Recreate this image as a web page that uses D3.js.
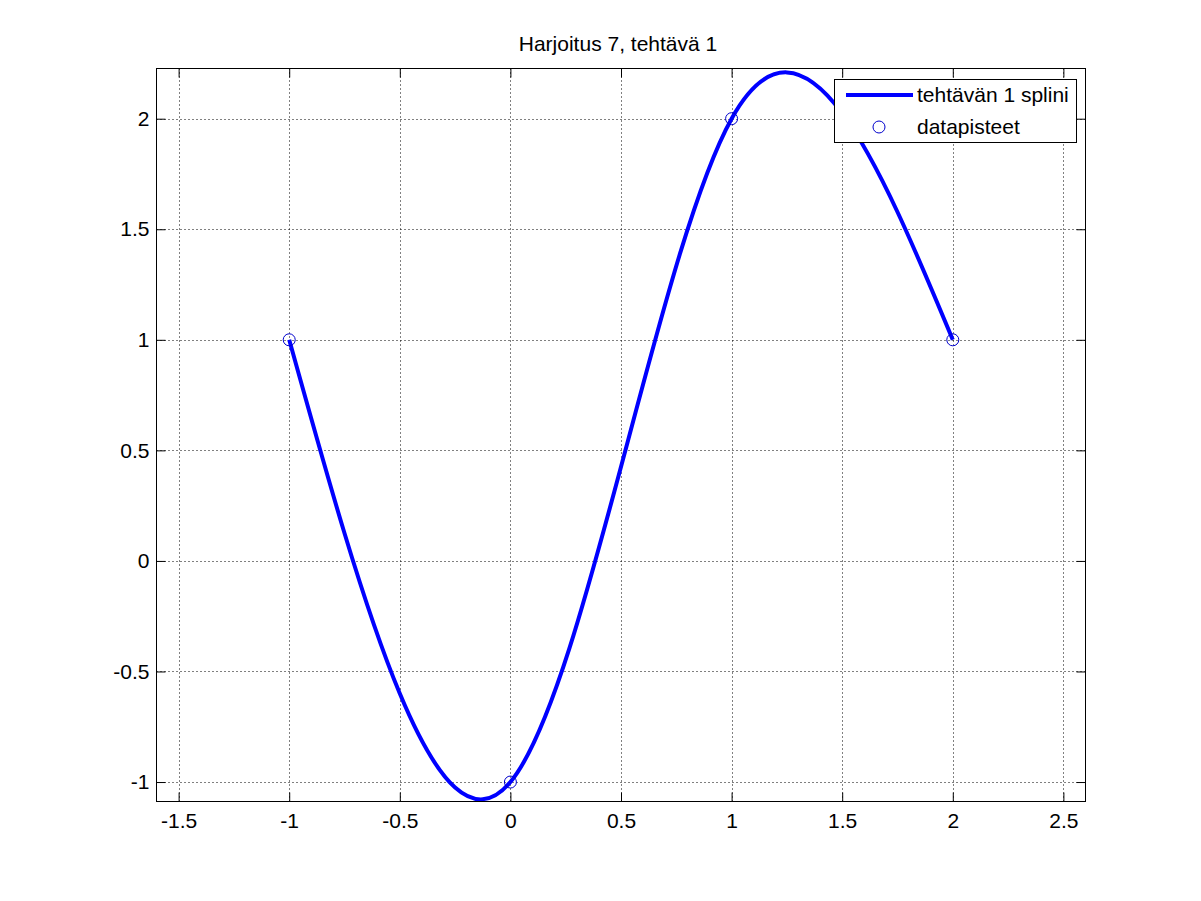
<!DOCTYPE html>
<html>
<head>
<meta charset="utf-8">
<script src="https://cdn.jsdelivr.net/npm/d3@7"></script>
<style>
  html, body { margin: 0; padding: 0; background: #fff; }
  svg { display: block; font-family: "Liberation Sans", Arial, sans-serif; }
</style>
</head>
<body>
<svg id="chart" width="1201" height="901"></svg>
<script>
// ---- data ----
const title = "Harjoitus 7, tehtävä 1";
const seriesNames = ["tehtävän 1 splini", "datapisteet"];
const xData = [-1, 0, 1, 2];
const yData = [1, -1, 2, 1];
const xTicks = [-1.5, -1, -0.5, 0, 0.5, 1, 1.5, 2, 2.5];
const yTicks = [-1, -0.5, 0, 0.5, 1, 1.5, 2];
const xDomain = [-1.6, 2.6];
const yDomain = [-1.088, 2.227];

// ---- layout ----
const L = 156.5, R = 1085.5, T = 68.5, B = 801.5;
const svg = d3.select("#chart");
const x = d3.scaleLinear().domain(xDomain).range([L, R]);
const y = d3.scaleLinear().domain(yDomain).range([B, T]);
const fontSize = 21;
const fmt = d => d3.format("~g")(d).replace("\u2212", "-");

svg.append("rect").attr("x", 0).attr("y", 0).attr("width", 1201).attr("height", 901).attr("fill", "#fff");

// grid
const grid = svg.append("g");
grid.selectAll("line.gx").data(xTicks).join("line")
  .attr("x1", d => Math.round(x(d)) + 0.5).attr("x2", d => Math.round(x(d)) + 0.5)
  .attr("y1", T).attr("y2", B)
  .attr("stroke", "#000").attr("stroke-width", 1).attr("stroke-dasharray", "1,3");
grid.selectAll("line.gy").data(yTicks).join("line")
  .attr("y1", d => Math.round(y(d)) + 0.5).attr("y2", d => Math.round(y(d)) + 0.5)
  .attr("x1", L).attr("x2", R)
  .attr("stroke", "#000").attr("stroke-width", 1).attr("stroke-dasharray", "1,3");

// axes with inward ticks (bottom/top/left/right)
const tk = 9;
const xAxisB = d3.axisBottom(x).tickValues(xTicks).tickSizeInner(-tk).tickSizeOuter(0).tickPadding(12).tickFormat(fmt);
const xAxisT = d3.axisTop(x).tickValues(xTicks).tickSizeInner(-tk).tickSizeOuter(0).tickFormat("");
const yAxisL = d3.axisLeft(y).tickValues(yTicks).tickSizeInner(-tk).tickSizeOuter(0).tickPadding(7).tickFormat(fmt);
const yAxisR = d3.axisRight(y).tickValues(yTicks).tickSizeInner(-tk).tickSizeOuter(0).tickFormat("");

function styleAxis(g) {
  g.select(".domain").remove();
  g.selectAll(".tick line").attr("stroke", "#000").attr("stroke-width", 1);
  g.selectAll(".tick text").attr("fill", "#000").style("font-size", fontSize + "px")
    .style("font-family", "'Liberation Sans', Arial, sans-serif");
}
svg.append("g").attr("transform", `translate(0,${B})`).call(xAxisB).call(styleAxis);
svg.append("g").attr("transform", `translate(0,${T})`).call(xAxisT).call(styleAxis);
svg.append("g").attr("transform", `translate(${L},0)`).call(yAxisL).call(styleAxis);
svg.append("g").attr("transform", `translate(${R},0)`).call(yAxisR).call(styleAxis);

// spline line
const pts = xData.map((d, i) => [d, yData[i]]);
const line = d3.line().x(d => x(d[0])).y(d => y(d[1])).curve(d3.curveNatural);
svg.append("path").datum(pts).attr("d", line)
  .attr("fill", "none").attr("stroke", "#0000ff").attr("stroke-width", 4)
  .attr("stroke-linejoin", "round");

// data points
svg.selectAll("circle.pt").data(pts).join("circle")
  .attr("cx", d => x(d[0])).attr("cy", d => y(d[1])).attr("r", 6)
  .attr("fill", "none").attr("stroke", "#0000cc").attr("stroke-width", 1);

// box
svg.append("rect").attr("x", L).attr("y", T).attr("width", R - L).attr("height", B - T)
  .attr("fill", "none").attr("stroke", "#000").attr("stroke-width", 1);

// title
svg.append("text").attr("x", (L + R) / 2 - 3).attr("y", 51).attr("text-anchor", "middle")
  .style("font-size", fontSize + "px").attr("fill", "#000").text(title);

// legend
const lg = svg.append("g");
lg.append("rect").attr("x", 834.5).attr("y", 79.5).attr("width", 242).attr("height", 63)
  .attr("fill", "#fff").attr("stroke", "#000").attr("stroke-width", 1);
lg.append("line").attr("x1", 846).attr("x2", 913).attr("y1", 95).attr("y2", 95)
  .attr("stroke", "#0000ff").attr("stroke-width", 4);
lg.append("circle").attr("cx", 879).attr("cy", 127).attr("r", 6)
  .attr("fill", "none").attr("stroke", "#0000cc").attr("stroke-width", 1);
lg.selectAll("text").data(seriesNames).join("text")
  .attr("x", 917).attr("y", (d, i) => 102 + i * 32)
  .style("font-size", fontSize + "px").attr("fill", "#000").text(d => d);
</script>
</body>
</html>
